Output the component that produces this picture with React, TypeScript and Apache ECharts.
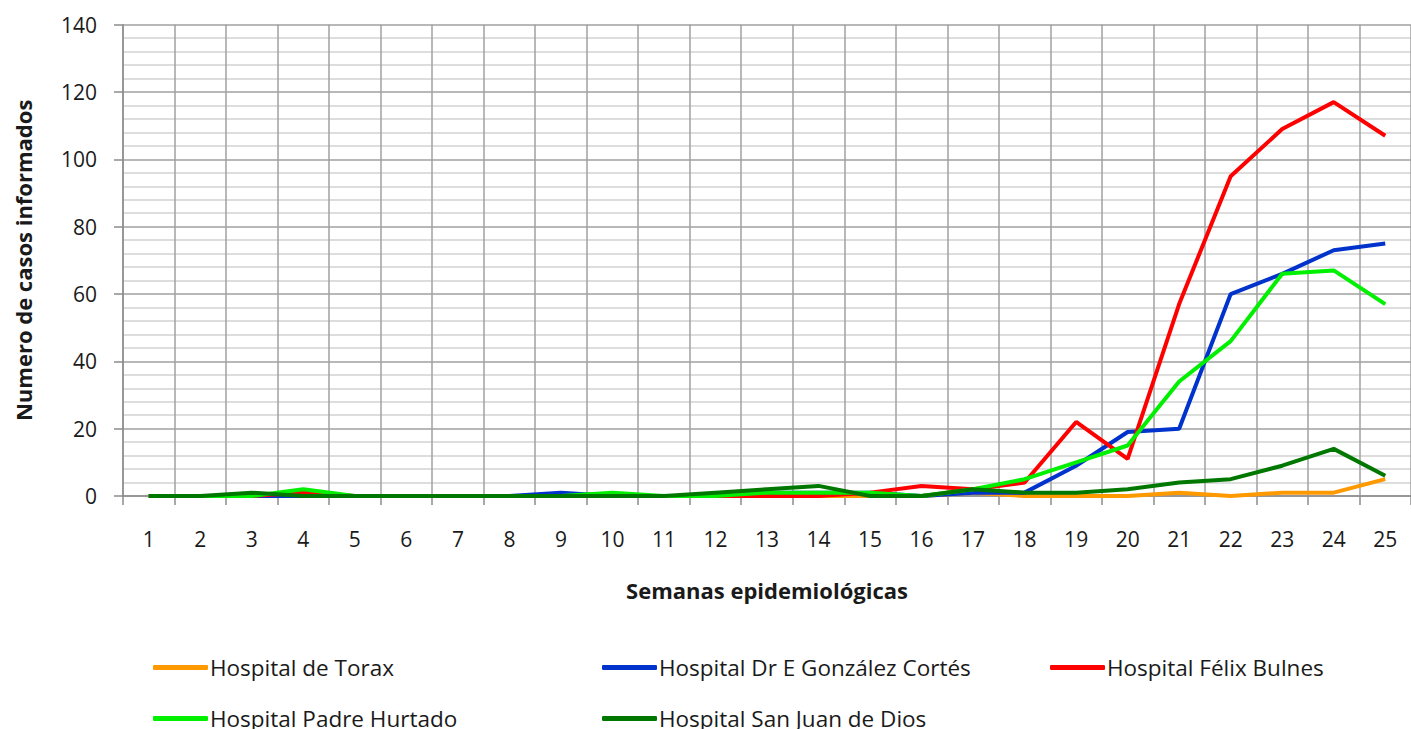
import React, { useEffect, useRef } from "react";
import * as echarts from "echarts";

const weeks = ["1","2","3","4","5","6","7","8","9","10","11","12","13","14","15","16","17","18","19","20","21","22","23","24","25"];

const seriesNames = [
  "Hospital de Torax",
  "Hospital Dr E González Cortés",
  "Hospital Félix Bulnes",
  "Hospital Padre Hurtado",
  "Hospital San Juan de Dios",
];

const torax = [0,0,0,0,0,0,0,0,0,0,0,0,0,0,0,0,1,0,0,0,1,0,1,1,5];
const gonzalezCortes = [0,0,0,0,0,0,0,0,1,0,0,0,1,1,1,0,1,1,9,19,20,60,66,73,75];
const felixBulnes = [0,0,0,1,0,0,0,0,0,0,0,0,0,0,1,3,2,4,22,11,57,95,109,117,107];
const padreHurtado = [0,0,0,2,0,0,0,0,0,1,0,0,1,1,1,0,2,5,10,15,34,46,66,67,57];
const sanJuanDeDios = [0,0,1,0,0,0,0,0,0,0,0,1,2,3,0,0,2,1,1,2,4,5,9,14,6];

const colors = ["#FF9900", "#0033CC", "#FF0000", "#00F000", "#007800"];
const allData = [torax, gonzalezCortes, felixBulnes, padreHurtado, sanJuanDeDios];

// legend slots: [left, top] for each series
const legendLefts = [153, 602, 1050, 153, 602];
const legendTops = [656, 656, 656, 707, 707];

const FONT = "'Open Sans', Lato, sans-serif";

export default function App() {
  const ref = useRef<HTMLDivElement>(null);

  useEffect(() => {
    if (!ref.current) return;
    const chart = echarts.init(ref.current, null, { renderer: "svg" });
    chart.setOption({
      animation: false,
      backgroundColor: "#ffffff",
      grid: { left: 123, top: 24.7, width: 1294, height: 471.3, containLabel: false },
      legend: seriesNames.map((name, i) => ({
        orient: "horizontal",
        left: legendLefts[i],
        top: legendTops[i],
        padding: 0,
        itemWidth: 55,
        itemHeight: 5,
        icon: "roundRect",
        data: [name],
        textStyle: { fontFamily: FONT, fontSize: 22.5, color: "#1a1a1a", padding: [0, 0, 0, -3] },
      })),
      xAxis: {
        type: "category",
        data: weeks,
        boundaryGap: true,
        name: "Semanas epidemiológicas",
        nameLocation: "middle",
        nameGap: 83,
        nameTextStyle: { fontFamily: FONT, fontSize: 22, fontWeight: "bold", color: "#1a1a1a" },
        axisLine: { lineStyle: { color: "#8c8c8c", width: 1.5 } },
        axisTick: { show: true, length: 9, interval: 0, lineStyle: { color: "#8c8c8c", width: 1.5 } },
        axisLabel: { fontFamily: FONT, fontSize: 21, color: "#1a1a1a", margin: 32, interval: 0 },
        splitLine: { show: true, interval: 0, lineStyle: { color: "#a0a0a0", width: 1.5 } },
      },
      yAxis: {
        type: "value",
        min: 0,
        max: 140,
        interval: 20,
        name: "Numero de casos informados",
        nameLocation: "middle",
        nameGap: 89,
        nameTextStyle: { fontFamily: FONT, fontSize: 22, fontWeight: "bold", color: "#1a1a1a" },
        axisLine: { show: true, lineStyle: { color: "#8c8c8c", width: 1.5 } },
        axisTick: { show: true, length: 9, lineStyle: { color: "#8c8c8c", width: 1.5 } },
        axisLabel: { fontFamily: FONT, fontSize: 21, color: "#1a1a1a", margin: 26 },
        splitLine: { show: true, lineStyle: { color: "#a0a0a0", width: 1.5 } },
        minorTick: { show: false, splitNumber: 5 },
        minorSplitLine: { show: true, lineStyle: { color: "#d2d2d2", width: 1.5 } },
      },
      series: seriesNames.map((name, i) => ({
        name,
        type: "line",
        data: allData[i],
        showSymbol: false,
        symbol: "none",
        color: colors[i],
        lineStyle: { width: 4, color: colors[i] },
        z: 2 + i,
      })),
    });
    return () => chart.dispose();
  }, []);

  return (
    <div
      ref={ref}
      style={{ position: "fixed", left: 0, top: 0, width: 1411, height: 729, background: "#fff" }}
    />
  );
}
